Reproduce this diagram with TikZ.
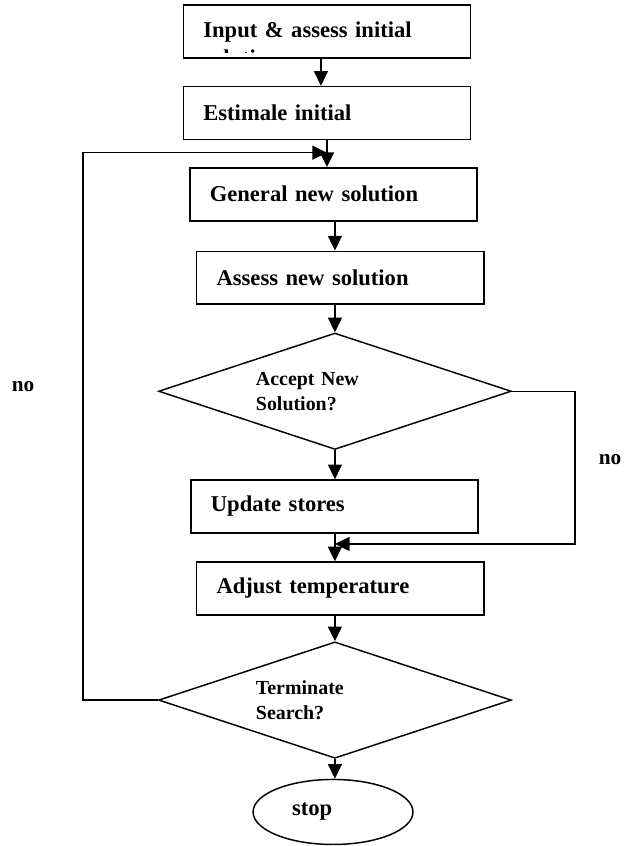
\documentclass[tikz,border=0pt]{standalone}
\usepackage{fontspec}
\setmainfont{Liberation Serif}
\usetikzlibrary{arrows.meta,positioning,shapes.geometric}
\tikzset{
  procbox/.style  = {draw, line width=1.2pt, rectangle, minimum width=7.59cm,
                     minimum height=1.40cm, text width=6.54cm, inner xsep=0.53cm,
                     inner ysep=0pt, align=left,
                     font=\fontsize{17}{20}\selectfont\bfseries},
  decision/.style = {draw, line width=1.1pt, diamond, aspect=3, inner sep=0pt,
                     minimum width=9.33cm, minimum height=3.08cm,
                     text width=4.18cm, align=left,
                     font=\fontsize{15}{18.75}\selectfont\bfseries},
  terminal/.style = {draw, line width=1.1pt, ellipse, inner sep=0pt,
                     minimum width=4.23cm, minimum height=1.72cm,
                     text width=2.17cm, align=left,
                     font=\fontsize{17}{20}\selectfont\bfseries},
  flow/.style     = {-{Triangle[length=11pt,width=10.5pt]}, line width=1.1pt},
  answer/.style   = {font=\fontsize{16}{19}\selectfont\bfseries},
}

\begin{document}
\begin{tikzpicture}[x=1cm, y=1cm]
\useasboundingbox (0,0) rectangle (16.56,22.38);
% ---------------- set-up boxes ----------------
\node[procbox] (input) at (8.65,21.54) {Input \& assess initial};
% second line runs out of the box
\begin{scope}
  \clip (input.north west) rectangle ([yshift=0.18cm]input.south east);
  \node[anchor=base west, inner sep=0pt,
        font=\fontsize{17}{20}\selectfont\bfseries] (input-tail)
        at (5.37,20.66) {solution};
\end{scope}
\node[procbox] (estimate) at (8.65,19.39) {Estimale initial};
% ---------------- annealing loop ----------------
\node[procbox]  (generate) at (8.82,17.24) {General new solution};
\node[procbox]  (assess)   at (9.00,15.03) {Assess new solution};
\node[decision] (accept)   at (8.86,12.03) {Accept New\\Solution?};
\node[procbox]  (update)   at (8.85,8.98)  {Update stores};
\node[procbox]  (adjust)   at (9.00,6.81)  {Adjust temperature};
\node[decision] (term)     at (8.86,3.86)  {Terminate\\Search?};
\node[terminal] (stop)     at (8.81,0.90)  {stop};
% corners of the two return paths
\coordinate (merge) at (8.65,18.34);
\coordinate (loop)  at (2.20,18.34);
\coordinate (skip)  at (15.21,7.99);
% ---------------- connectors ----------------
\draw[flow] ([xshift=-0.16cm]input.south) -- ([xshift=-0.16cm]input.south |- estimate.north);
\draw[flow] (estimate.south) -- (estimate.south |- generate.north);
\draw[flow] (term.west) -| (loop) -- (merge);
\draw[flow] (generate.south -| accept.north) -- (assess.north -| accept.north);
\draw[flow] (assess.south -| accept.north) -- (accept.north);
\draw[flow] (accept.south) -- (update.north -| accept.south);
\draw[flow] (update.south -| accept.south) -- (adjust.north -| accept.south);
\draw[flow] (accept.east) -| (skip) -- (accept.south |- skip);
\draw[flow] (adjust.south -| term.north) -- (term.north);
\draw[flow] (term.south) -- (stop.north -| term.south);
% ---------------- branch labels ----------------
\node[answer] (no-loop) at (0.61,12.14) {no};
\node[answer] (no-skip) at (16.14,10.21) {no};
\end{tikzpicture}
\end{document}
